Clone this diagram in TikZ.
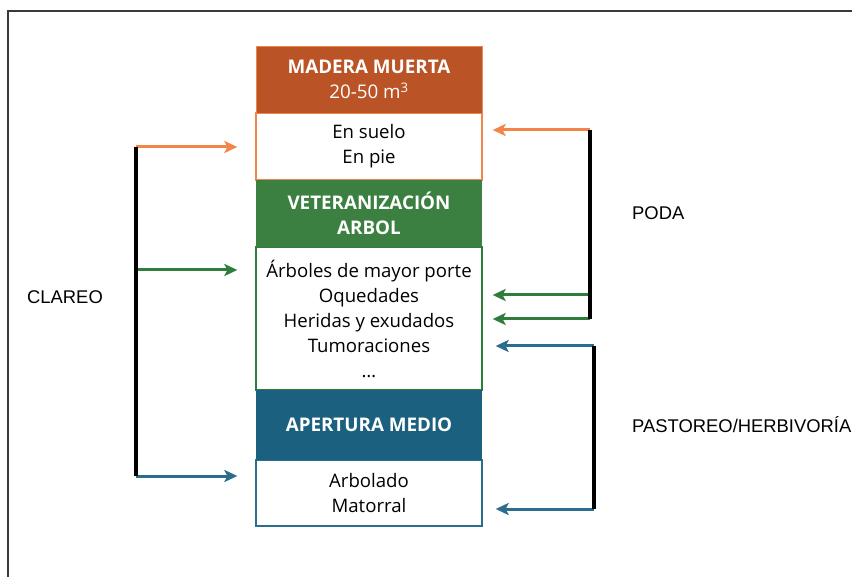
\documentclass[tikz,border=0pt]{standalone}
\usepackage{fontspec}
\setmainfont{Open Sans}
\newfontfamily\labelfont{Liberation Sans}
\usetikzlibrary{arrows.meta}

\definecolor{maderaC}{HTML}{BA5427}
\definecolor{maderaL}{HTML}{F2864A}
\definecolor{veterC}{HTML}{3B8040}
\definecolor{veterL}{HTML}{2F7D3B}
\definecolor{aperturaC}{HTML}{1C607F}
\definecolor{aperturaL}{HTML}{2B6D8D}
\definecolor{frameC}{HTML}{3A3A3A}

\begin{document}
\begin{tikzpicture}[x=1pt, y=-1pt]
	\tikzstyle{head} = [minimum width=226pt, inner sep=0pt, text=white, align=center, font=\fontsize{18.8}{25}\selectfont]
	\tikzstyle{body} = [minimum width=226pt, inner sep=0pt, fill=white, line width=1.3pt, align=center, font=\fontsize{18.6}{25}\selectfont]
	\tikzstyle{arr}  = [line width=3pt, -{Stealth[length=13pt, width=12pt, inset=3pt]}]
	\tikzstyle{brace} = [line width=3.2pt, black]
	\tikzstyle{label} = [inner sep=0pt, font=\labelfont\fontsize{18.4}{20}\selectfont]

	\useasboundingbox (0,0) rectangle (852,577);
	\draw[frameC, line width=1.6pt] (8,577) -- (8,11) -- (852,11);

	% boxes
	\node[body, draw=maderaL, minimum height=67pt] (suelo) at (369,146.5) {En suelo\\En pie};
	\node[body, draw=veterL, minimum height=143pt] (rasgos) at (369,318.5) {\'Arboles de mayor porte\\Oquedades\\Heridas y exudados\\Tumoraciones\\\dots};
	\node[body, draw=aperturaL, minimum height=66pt] (arbolado) at (369,493) {Arbolado\\Matorral};

	\node[head, fill=maderaC, draw=maderaL, minimum height=67pt] (madera) at (369,79.5) {\textbf{MADERA MUERTA}\\20-50 m\textsuperscript{3}};
	\node[head, fill=veterC, minimum height=67pt] (veter) at (369,213.5) {\textbf{VETERANIZACI\'ON}\\\textbf{ARBOL}};
	\node[head, fill=aperturaC, minimum height=70pt] (apertura) at (369,425) {\textbf{APERTURA MEDIO}};

	% labels
	\node[label] (clareo) at (65,297) {CLAREO};
	\node[label, anchor=west] (poda) at (632,213) {PODA};
	\node[label, anchor=west] (pastoreo) at (632,425) {PASTOREO/HERBIVOR\'IA};

	% brackets
	\coordinate (cl1) at (136,147);
	\coordinate (cl2) at (136,270);
	\coordinate (cl3) at (136,476);
	\coordinate (pr1) at (590,130);
	\coordinate (pr2) at (590,295);
	\coordinate (pr3) at (590,319);
	\coordinate (pb1) at (594,346);
	\coordinate (pb2) at (594,509);

	\draw[arr, maderaL, shorten >=18pt] (cl1) -- (cl1 -| suelo.west);
	\draw[arr, veterL, shorten >=18pt] (cl2) -- (cl2 -| rasgos.west);
	\draw[arr, aperturaL, shorten >=18pt] (cl3) -- (cl3 -| arbolado.west);
	\draw[brace] (cl1) -- (cl3);

	\draw[arr, maderaL, shorten >=10pt] (pr1) -- (pr1 -| suelo.east);
	\foreach \p in {pr2, pr3}
		\draw[arr, veterL, shorten >=10pt] (\p) -- (\p -| rasgos.east);
	\draw[brace] (pr1) -- (pr3);

	\draw[arr, aperturaL, shorten >=13pt] (pb1) -- (pb1 -| rasgos.east);
	\draw[arr, aperturaL, shorten >=13pt] (pb2) -- (pb2 -| arbolado.east);
	\draw[brace] (pb1) -- (pb2);
\end{tikzpicture}
\end{document}
